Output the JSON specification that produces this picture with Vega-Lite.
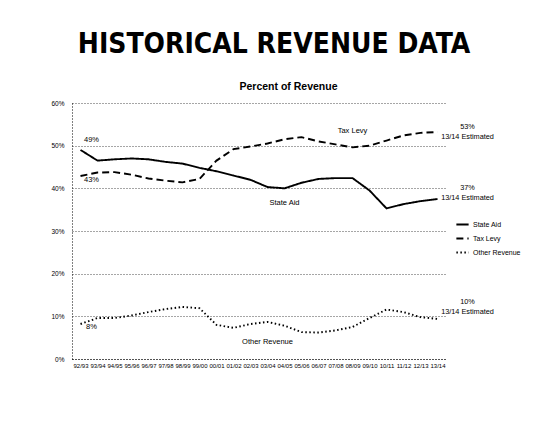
{
  "$schema": "https://vega.github.io/schema/vega-lite/v6.json",
  "width": 374,
  "height": 256,
  "autosize": {"type": "none"},
  "padding": {"left": 72, "top": 103, "right": 109, "bottom": 71},
  "background": "white",
  "title": {
    "text": "HISTORICAL REVENUE DATA",
    "font": "DejaVu Sans Condensed, DejaVu Sans, Liberation Sans",
    "fontSize": 28,
    "fontWeight": "bold",
    "color": "black",
    "anchor": "middle",
    "dx": 15,
    "offset": 22
  },
  "config": {"view": {"stroke": null}, "font": "Liberation Sans"},
  "datasets": {
    "series": [
      {"year": "92/93", "series": "State Aid", "value": 49.0},
      {"year": "93/94", "series": "State Aid", "value": 46.5},
      {"year": "94/95", "series": "State Aid", "value": 46.8},
      {"year": "95/96", "series": "State Aid", "value": 47.0},
      {"year": "96/97", "series": "State Aid", "value": 46.8},
      {"year": "97/98", "series": "State Aid", "value": 46.2},
      {"year": "98/99", "series": "State Aid", "value": 45.8},
      {"year": "99/00", "series": "State Aid", "value": 44.8},
      {"year": "00/01", "series": "State Aid", "value": 44.0},
      {"year": "01/02", "series": "State Aid", "value": 43.0},
      {"year": "02/03", "series": "State Aid", "value": 42.0},
      {"year": "03/04", "series": "State Aid", "value": 40.3},
      {"year": "04/05", "series": "State Aid", "value": 40.0},
      {"year": "05/06", "series": "State Aid", "value": 41.3},
      {"year": "06/07", "series": "State Aid", "value": 42.2},
      {"year": "07/08", "series": "State Aid", "value": 42.4},
      {"year": "08/09", "series": "State Aid", "value": 42.4},
      {"year": "09/10", "series": "State Aid", "value": 39.5},
      {"year": "10/11", "series": "State Aid", "value": 35.3},
      {"year": "11/12", "series": "State Aid", "value": 36.3},
      {"year": "12/13", "series": "State Aid", "value": 37.0},
      {"year": "13/14", "series": "State Aid", "value": 37.5},
      {"year": "92/93", "series": "Tax Levy", "value": 42.9},
      {"year": "93/94", "series": "Tax Levy", "value": 43.7},
      {"year": "94/95", "series": "Tax Levy", "value": 43.8},
      {"year": "95/96", "series": "Tax Levy", "value": 43.2},
      {"year": "96/97", "series": "Tax Levy", "value": 42.3},
      {"year": "97/98", "series": "Tax Levy", "value": 41.8},
      {"year": "98/99", "series": "Tax Levy", "value": 41.4},
      {"year": "99/00", "series": "Tax Levy", "value": 42.2},
      {"year": "00/01", "series": "Tax Levy", "value": 46.5},
      {"year": "01/02", "series": "Tax Levy", "value": 49.2},
      {"year": "02/03", "series": "Tax Levy", "value": 49.8},
      {"year": "03/04", "series": "Tax Levy", "value": 50.5},
      {"year": "04/05", "series": "Tax Levy", "value": 51.5},
      {"year": "05/06", "series": "Tax Levy", "value": 52.0},
      {"year": "06/07", "series": "Tax Levy", "value": 51.0},
      {"year": "07/08", "series": "Tax Levy", "value": 50.3},
      {"year": "08/09", "series": "Tax Levy", "value": 49.6},
      {"year": "09/10", "series": "Tax Levy", "value": 50.0},
      {"year": "10/11", "series": "Tax Levy", "value": 51.2},
      {"year": "11/12", "series": "Tax Levy", "value": 52.4},
      {"year": "12/13", "series": "Tax Levy", "value": 53.0},
      {"year": "13/14", "series": "Tax Levy", "value": 53.2},
      {"year": "92/93", "series": "Other Revenue", "value": 8.2},
      {"year": "93/94", "series": "Other Revenue", "value": 9.6},
      {"year": "94/95", "series": "Other Revenue", "value": 9.6},
      {"year": "95/96", "series": "Other Revenue", "value": 10.2},
      {"year": "96/97", "series": "Other Revenue", "value": 11.0},
      {"year": "97/98", "series": "Other Revenue", "value": 11.7},
      {"year": "98/99", "series": "Other Revenue", "value": 12.2},
      {"year": "99/00", "series": "Other Revenue", "value": 11.9},
      {"year": "00/01", "series": "Other Revenue", "value": 8.0},
      {"year": "01/02", "series": "Other Revenue", "value": 7.3},
      {"year": "02/03", "series": "Other Revenue", "value": 8.2},
      {"year": "03/04", "series": "Other Revenue", "value": 8.7},
      {"year": "04/05", "series": "Other Revenue", "value": 7.8},
      {"year": "05/06", "series": "Other Revenue", "value": 6.3},
      {"year": "06/07", "series": "Other Revenue", "value": 6.2},
      {"year": "07/08", "series": "Other Revenue", "value": 6.7},
      {"year": "08/09", "series": "Other Revenue", "value": 7.5},
      {"year": "09/10", "series": "Other Revenue", "value": 9.6},
      {"year": "10/11", "series": "Other Revenue", "value": 11.6},
      {"year": "11/12", "series": "Other Revenue", "value": 11.0},
      {"year": "12/13", "series": "Other Revenue", "value": 9.8},
      {"year": "13/14", "series": "Other Revenue", "value": 9.4}
    ],
    "notes": [
      {"label": "49%", "year": "92/93", "value": 51.3, "grp": "left"},
      {"label": "43%", "year": "92/93", "value": 42.0, "grp": "left"},
      {"label": "8%", "year": "92/93", "value": 7.5, "grp": "left"},
      {"label": "Tax Levy", "year": "08/09", "value": 53.4, "grp": "mid"},
      {"label": "State Aid", "year": "04/05", "value": 36.5, "grp": "mid"},
      {"label": "Other Revenue", "year": "03/04", "value": 4.0, "grp": "mid"},
      {"label": "53%", "year": "13/14", "value": 54.3, "grp": "right"},
      {"label": "13/14 Estimated", "year": "13/14", "value": 52.0, "grp": "right"},
      {"label": "37%", "year": "13/14", "value": 40.0, "grp": "right"},
      {"label": "13/14 Estimated", "year": "13/14", "value": 37.7, "grp": "right"},
      {"label": "10%", "year": "13/14", "value": 13.3, "grp": "right"},
      {"label": "13/14 Estimated", "year": "13/14", "value": 11.0, "grp": "right"}
    ]
  },
  "layer": [
    {
      "data": {"name": "series"},
      "mark": {"type": "line", "stroke": "black", "strokeWidth": 1.9},
      "encoding": {
        "x": {
          "field": "year",
          "type": "ordinal",
          "scale": {
            "type": "point",
            "padding": 0.5,
            "domain": ["92/93","93/94","94/95","95/96","96/97","97/98","98/99","99/00","00/01","01/02","02/03","03/04","04/05","05/06","06/07","07/08","08/09","09/10","10/11","11/12","12/13","13/14"]
          },
          "axis": {
            "title": null,
            "labelAngle": 0,
            "labelFontSize": 6,
            "labelColor": "black",
            "labelOverlap": false,
            "ticks": false,
            "grid": false,
            "domainDash": [1, 2],
            "domainColor": "black",
            "labelPadding": 3
          }
        },
        "y": {
          "field": "value",
          "type": "quantitative",
          "scale": {"domain": [0, 60], "nice": false},
          "axis": {
            "title": null,
            "values": [0, 10, 20, 30, 40, 50, 60],
            "labelExpr": "datum.value + '%'",
            "labelFontSize": 6.5,
            "labelColor": "black",
            "gridDash": [1, 2],
            "gridColor": "black",
            "gridOpacity": 0.7,
            "domainDash": [1, 2],
            "domainColor": "black",
            "ticks": false,
            "labelPadding": 8
          }
        },
        "strokeDash": {
          "field": "series",
          "type": "nominal",
          "scale": {
            "domain": ["State Aid", "Tax Levy", "Other Revenue"],
            "range": [[1, 0], [7, 4], [1.5, 2.5]]
          },
          "legend": {
            "orient": "none",
            "legendX": 383,
            "legendY": 114,
            "title": null,
            "labelFontSize": 7,
            "labelColor": "black",
            "symbolType": "stroke",
            "symbolStrokeColor": "black",
            "symbolStrokeWidth": 2,
            "symbolSize": 150,
            "rowPadding": 2,
            "labelOffset": 3
          }
        }
      }
    },
    {
      "data": {"name": "notes"},
      "transform": [{"filter": "datum.grp == 'left'"}],
      "mark": {"type": "text", "align": "center", "dx": 11, "fontSize": 7.5, "color": "black"},
      "encoding": {
        "x": {
          "field": "year",
          "type": "ordinal",
          "axis": {
            "orient": "top",
            "title": "Percent of Revenue",
            "titleFontSize": 10.5,
            "titleFontWeight": "bold",
            "titleColor": "black",
            "titlePadding": 12,
            "titleX": 216,
            "labels": false,
            "ticks": false,
            "domain": false,
            "grid": false
          }
        },
        "y": {"field": "value", "type": "quantitative", "title": null},
        "text": {"field": "label"}
      }
    },
    {
      "data": {"name": "notes"},
      "transform": [{"filter": "datum.grp == 'mid'"}],
      "mark": {"type": "text", "align": "center", "fontSize": 7.5, "color": "black"},
      "encoding": {
        "x": {"field": "year", "type": "ordinal", "axis": null},
        "y": {"field": "value", "type": "quantitative", "title": null},
        "text": {"field": "label"}
      }
    },
    {
      "data": {"name": "notes"},
      "transform": [{"filter": "datum.grp == 'right'"}],
      "mark": {"type": "text", "align": "center", "dx": 30, "fontSize": 7.3, "color": "black"},
      "encoding": {
        "x": {"field": "year", "type": "ordinal", "axis": null},
        "y": {"field": "value", "type": "quantitative", "title": null},
        "text": {"field": "label"}
      }
    }
  ],
  "resolve": {"axis": {"x": "independent"}}
}
